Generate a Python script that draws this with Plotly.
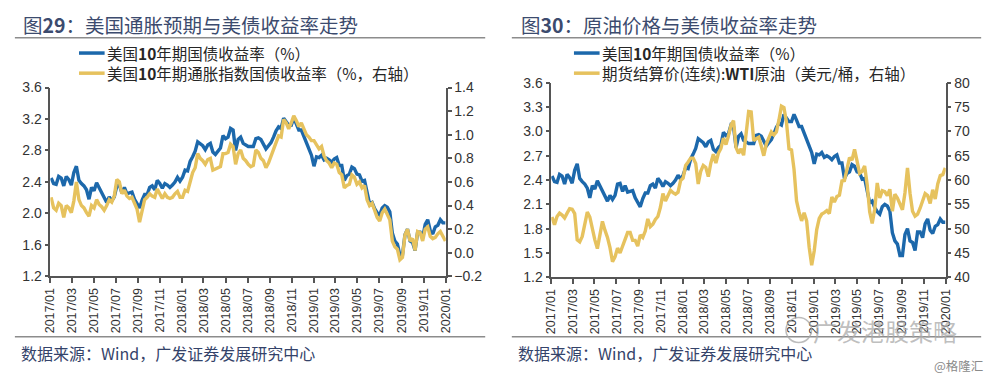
import pandas as pd
import plotly.graph_objects as go

# ---------------- data (weekly) ----------------
us10y_2017 = [2.45, 2.38, 2.37, 2.47, 2.45, 2.35, 2.47, 2.43, 2.36, 2.52, 2.60, 2.42, 2.38,
              2.35, 2.30, 2.18, 2.33, 2.29, 2.39, 2.33, 2.28, 2.21, 2.14, 2.21, 2.16, 2.21,
              2.35, 2.36, 2.26, 2.33, 2.25, 2.26, 2.27, 2.18, 2.13, 2.07, 2.17, 2.24, 2.24,
              2.33, 2.35, 2.30, 2.42, 2.38, 2.32, 2.38, 2.36, 2.33, 2.36, 2.40, 2.46, 2.41]
us10y_2018 = [2.46, 2.55, 2.54, 2.66, 2.72, 2.79, 2.91, 2.89, 2.86, 2.81, 2.87, 2.89, 2.78,
              2.75, 2.80, 2.83, 2.99, 2.95, 2.97, 3.08, 3.06, 2.80, 2.94, 2.97, 2.89, 2.87,
              2.85, 2.85, 2.85, 2.95, 2.96, 2.94, 2.89, 2.82, 2.86, 2.90, 2.97, 3.05, 3.10,
              3.08, 3.21, 3.17, 3.12, 3.12, 3.21, 3.14, 3.06, 3.06, 2.98, 2.88, 2.82, 2.74]
us10y_2019 = [2.60, 2.72, 2.71, 2.74, 2.68, 2.70, 2.68, 2.65, 2.69, 2.71, 2.61, 2.61, 2.42,
              2.48, 2.50, 2.59, 2.57, 2.50, 2.49, 2.41, 2.42, 2.27, 2.12, 2.14, 2.06, 2.01,
              1.98, 2.07, 2.10, 2.08, 2.02, 1.75, 1.65, 1.61, 1.47, 1.47, 1.73, 1.80, 1.65,
              1.63, 1.53, 1.76, 1.76, 1.69, 1.86, 1.92, 1.78, 1.74, 1.83, 1.85, 1.92, 1.88, 1.88]

tips_2017 = [0.47, 0.38, 0.36, 0.42, 0.40, 0.30, 0.40, 0.38, 0.34, 0.44, 0.60, 0.45, 0.40,
             0.38, 0.34, 0.31, 0.40, 0.38, 0.45, 0.41, 0.39, 0.36, 0.40, 0.45, 0.43, 0.48,
             0.62, 0.60, 0.50, 0.53, 0.48, 0.46, 0.47, 0.42, 0.37, 0.26, 0.36, 0.45, 0.47,
             0.50, 0.48, 0.47, 0.54, 0.50, 0.46, 0.50, 0.47, 0.46, 0.47, 0.50, 0.52, 0.47]
tips_2018 = [0.47, 0.53, 0.52, 0.60, 0.68, 0.72, 0.84, 0.80, 0.78, 0.75, 0.79, 0.80, 0.70,
             0.71, 0.72, 0.73, 0.84, 0.84, 0.85, 0.92, 0.90, 0.75, 0.84, 0.87, 0.80, 0.78,
             0.75, 0.73, 0.74, 0.87, 0.85, 0.80, 0.78, 0.72, 0.76, 0.82, 0.89, 0.95, 0.99,
             0.98, 1.13, 1.10, 1.05, 1.10, 1.16, 1.12, 1.07, 1.10, 1.04, 1.00, 0.98, 0.95]
tips_2019 = [0.95, 0.92, 0.88, 0.90, 0.82, 0.78, 0.76, 0.72, 0.76, 0.75, 0.68, 0.66, 0.55,
             0.57, 0.58, 0.66, 0.64, 0.58, 0.60, 0.55, 0.57, 0.45, 0.40, 0.42, 0.35, 0.30,
             0.27, 0.34, 0.37, 0.33, 0.28, 0.10, 0.05, 0.03, -0.06, -0.04, 0.15, 0.20, 0.10,
             0.12, 0.02, 0.18, 0.17, 0.10, 0.20, 0.22, 0.14, 0.12, 0.13, 0.16, 0.18, 0.14, 0.10]

wti_2017 = [52.4, 50.8, 52.5, 53.2, 52.8, 52.2, 53.2, 54.1, 54.0, 53.1, 47.7, 47.3, 48.4,
            51.0, 53.4, 52.4, 49.6, 47.7, 45.9, 48.7, 51.5, 49.7, 48.2, 46.1, 43.2, 44.2,
            46.0, 45.0, 46.4, 47.9, 49.2, 49.2, 47.6, 47.6, 46.4, 48.7, 48.2, 49.5, 52.0,
            50.4, 50.9, 51.9, 52.5, 54.4, 57.2, 55.7, 56.8, 57.9, 57.4, 57.1, 57.5, 59.9]
wti_2018 = [60.4, 63.0, 63.7, 64.5, 64.5, 63.4, 59.2, 61.8, 63.0, 62.6, 60.7, 63.5, 65.3,
            63.5, 65.5, 66.5, 68.6, 67.3, 69.1, 71.3, 72.2, 66.7, 65.5, 66.4, 65.1, 70.5,
            74.1, 74.0, 68.1, 68.5, 68.8, 67.0, 65.0, 67.4, 68.5, 69.9, 69.3, 69.9, 72.3,
            75.2, 74.9, 71.9, 66.4, 66.2, 62.2, 55.7, 53.4, 51.6, 53.3, 51.6, 46.2, 42.5]
wti_2019 = [45.4, 49.8, 52.1, 53.0, 53.3, 53.7, 53.1, 56.5, 55.5, 56.6, 56.9, 59.8, 59.9,
            62.6, 64.6, 64.1, 66.3, 63.9, 61.4, 61.8, 62.9, 59.1, 53.5, 51.1, 54.0, 59.4,
            56.3, 57.8, 57.6, 56.8, 58.1, 53.6, 57.1, 56.3, 54.9, 53.9, 57.4, 62.5, 57.3,
            53.6, 52.6, 53.0, 54.2, 55.5, 57.2, 56.8, 55.2, 58.0, 56.1, 59.2, 60.9, 61.1, 62.5]

us10y = us10y_2017 + us10y_2018 + us10y_2019
tips = tips_2017 + tips_2018 + tips_2019
wti = wti_2017 + wti_2018 + wti_2019

start_date = "2017-01-03"
def weekly(vals):
    return pd.date_range(start_date, periods=len(vals), freq="7D")

name_us10y = "美国<b>10</b>年期国债收益率（%）"
name_tips = "美国<b>10</b>年期通胀指数国债收益率（%，右轴）"
name_wti = "期货结算价(连续):<b>WTI</b>原油（美元/桶，右轴）"
title1 = "图<b>29</b>：美国通胀预期与美债收益率走势"
title2 = "图<b>30</b>：原油价格与美债收益率走势"
source_text = "数据来源：Wind，广发证券发展研究中心"

# ---------------- style ----------------
BLUE = "#1c68ab"
GOLD = "#e6c25e"
AXIS = "#555555"
TICKC = "#333333"
CJK = "Noto Sans CJK SC"
LAT = "Liberation Sans, Arial, sans-serif"
W, H = 1000, 385
LW = 3.4

def px(xp):
    return xp / W
def py(yp):
    return 1 - yp / H

fig = go.Figure()
fig.add_trace(go.Scatter(x=weekly(us10y), y=us10y, name="us10y", mode="lines",
                         line=dict(color=BLUE, width=LW), xaxis="x", yaxis="y", showlegend=False))
fig.add_trace(go.Scatter(x=weekly(tips), y=tips, name="tips", mode="lines",
                         line=dict(color=GOLD, width=LW), xaxis="x", yaxis="y2", showlegend=False))
fig.add_trace(go.Scatter(x=weekly(us10y), y=us10y, name="us10y", mode="lines",
                         line=dict(color=BLUE, width=LW), xaxis="x2", yaxis="y3", showlegend=False))
fig.add_trace(go.Scatter(x=weekly(wti), y=wti, name="wti", mode="lines",
                         line=dict(color=GOLD, width=LW), xaxis="x2", yaxis="y4", showlegend=False))

xcommon = dict(type="date", range=["2017-01-01", "2020-01-01"], tick0="2017-01-01", dtick="M2",
               tickformat="%Y/%m", tickangle=-90, ticks="outside", ticklen=5, tickwidth=1.5,
               tickcolor=AXIS, showline=True, linecolor=AXIS, linewidth=1.5, showgrid=False,
               zeroline=False, tickfont=dict(family=LAT, size=12.5, color=TICKC))
ycommon = dict(ticks="outside", ticklen=4, tickwidth=1.5, tickcolor=AXIS, showline=True,
               linecolor=AXIS, linewidth=1.5, showgrid=False, zeroline=False,
               tickfont=dict(family=LAT, size=14, color=TICKC))

fig.update_layout(
    width=W, height=H, margin=dict(l=0, r=0, t=0, b=0),
    paper_bgcolor="white", plot_bgcolor="white",
    xaxis=dict(domain=[px(44), px(445)], anchor="y", **xcommon),
    yaxis=dict(domain=[py(280), py(83)], range=[1.2, 3.6], dtick=0.4, anchor="x",
               tickformat=".1f", **ycommon),
    yaxis2=dict(overlaying="y", side="right", anchor="x", range=[-0.2, 1.4], dtick=0.2,
                tickformat=".1f", **ycommon),
    xaxis2=dict(domain=[px(552), px(952)], anchor="y3", **xcommon),
    yaxis3=dict(domain=[py(281), py(78)], range=[1.2, 3.6], dtick=0.3, anchor="x2",
                tickformat=".1f", **ycommon),
    yaxis4=dict(overlaying="y3", side="right", anchor="x2", range=[40, 80], dtick=5,
                tickformat="d", **ycommon),
)

shapes = []
annotations = []
# separator lines
for (x0, x1) in [(8, 485), (512, 988)]:
    for yy in (31, 343):
        shapes.append(dict(type="line", xref="paper", yref="paper", x0=px(x0), x1=px(x1),
                           y0=py(yy), y1=py(yy), line=dict(color="#8c8c8c", width=1.5)))
# titles
for (xx, t) in [(14, title1), (519, title2)]:
    annotations.append(dict(xref="paper", yref="paper", x=px(xx), y=py(17), xanchor="left",
                            yanchor="middle", showarrow=False, text=t,
                            font=dict(family=CJK, size=19.5, color="#3c4b6e")))
# legends
legend_items = [((73, 47), BLUE, name_us10y), ((73, 68), GOLD, name_tips),
                ((575, 47), BLUE, name_us10y), ((575, 68), GOLD, name_wti)]
for (xx, yy), col, txt in legend_items:
    shapes.append(dict(type="line", xref="paper", yref="paper", x0=px(xx), x1=px(xx + 26),
                       y0=py(yy), y1=py(yy), line=dict(color=col, width=3.5)))
    annotations.append(dict(xref="paper", yref="paper", x=px(xx + 26), y=py(yy), xanchor="left",
                            yanchor="middle", showarrow=False, text=txt,
                            font=dict(family=CJK, size=15.5, color="#262626")))
# sources
for xx in (12, 516):
    annotations.append(dict(xref="paper", yref="paper", x=px(xx), y=py(360), xanchor="left",
                            yanchor="middle", showarrow=False, text=source_text,
                            font=dict(family=CJK, size=16, color="#34436a")))
# watermark
shapes.append(dict(type="circle", xref="paper", yref="paper", x0=px(790), x1=px(816),
                   y0=py(349), y1=py(323), line=dict(color="rgba(165,165,165,0.75)", width=1.5)))
annotations.append(dict(xref="paper", yref="paper", x=px(815), y=py(337), xanchor="left",
                        yanchor="middle", showarrow=False, text="广发港股策略",
                        font=dict(family=CJK, size=24, color="rgba(170,170,170,0.75)")))
annotations.append(dict(xref="paper", yref="paper", x=px(992), y=py(373), xanchor="right",
                        yanchor="middle", showarrow=False, text="@格隆汇",
                        font=dict(family=CJK, size=12.5, color="#8a8a8a")))

fig.update_layout(shapes=shapes, annotations=annotations)

fig.write_html("out.html", config={"displayModeBar": False},
               post_script="document.body.style.margin='0';")
